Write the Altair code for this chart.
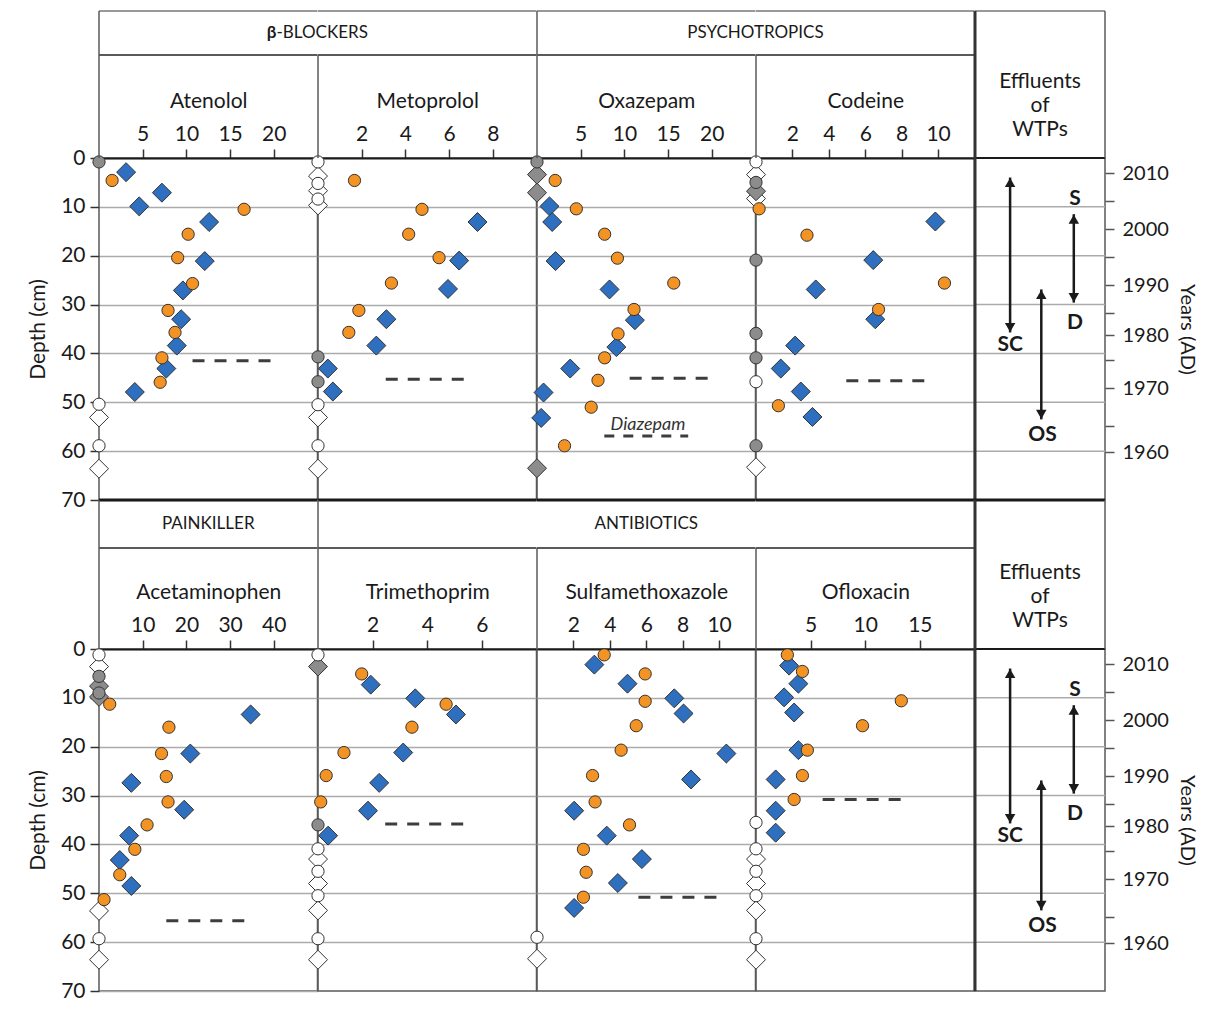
import json
import altair as alt
import pandas as pd

FONT = "Lato"
ORANGE = "#F39323"
BLUE = "#2E6FBF"
GREY = "#8C8C8C"
WHITE = "#FFFFFF"
EDGE = "#333333"
INK = "#1a1a1a"
FRAME = "#5a5a5a"
GRID = "#ababab"

PANEL_W = 218.5
EFF_W = 130
PLOT_H = 342

# ---------------- shared depth values ----------------
depth_grid = [10, 20, 30, 40, 50, 60]
depth_ticks = [0, 10, 20, 30, 40, 50, 60, 70]

# ---------------- Atenolol ----------------
aten_ticks = [5, 10, 15, 20]
aten_orange_x = [1.5, 16.6, 10.2, 9.0, 10.7, 7.9, 8.7, 7.2, 7.0]
aten_orange_depth = [4.6, 10.5, 15.6, 20.4, 25.7, 31.2, 35.7, 40.9, 45.9]
aten_blue_x = [3.1, 7.2, 4.6, 12.6, 12.1, 9.6, 9.4, 8.9, 7.7, 4.1]
aten_blue_depth = [2.9, 7.1, 9.9, 13.1, 21.1, 27.1, 33.0, 38.4, 43.1, 47.9]
aten_grey_circle = [0.8]
aten_grey_diamond = []
aten_white_circle = [50.4, 58.9]
aten_white_diamond = [53.1, 63.6]
aten_limit = [10.7, 20.3, 41.5]

# ---------------- Metoprolol ----------------
meto_ticks = [2, 4, 6, 8]
meto_orange_x = [1.67, 4.76, 4.15, 5.54, 3.36, 1.87, 1.41]
meto_orange_depth = [4.6, 10.5, 15.6, 20.4, 25.6, 31.2, 35.7]
meto_blue_x = [7.3, 6.46, 5.95, 3.13, 2.67, 0.45, 0.68]
meto_blue_depth = [13.1, 21.0, 26.8, 33.0, 38.4, 43.1, 47.8]
meto_grey_circle = [40.7, 45.8]
meto_grey_diamond = []
meto_white_circle = [0.8, 5.2, 8.4, 50.5, 58.9]
meto_white_diamond = [3.7, 6.7, 9.7, 53.1, 63.6]
meto_limit = [3.1, 7.0, 45.3]

# ---------------- Oxazepam (+ Diazepam limit) ----------------
oxa_ticks = [5, 10, 15, 20]
oxa_orange_x = [2.08, 4.5, 7.74, 9.2, 15.65, 11.1, 9.27, 7.74, 6.98, 6.2, 3.15]
oxa_orange_depth = [4.6, 10.4, 15.6, 20.5, 25.6, 31.0, 36.0, 40.9, 45.5, 51.0, 58.9]
oxa_blue_x = [1.43, 1.74, 2.12, 8.3, 11.2, 9.08, 3.8, 0.75, 0.48]
oxa_blue_depth = [9.9, 13.1, 21.1, 26.9, 33.2, 38.7, 43.1, 48.0, 53.2]
oxa_grey_circle = [0.8]
oxa_grey_diamond = [3.4, 7.1, 63.5]
oxa_white_circle = []
oxa_white_diamond = []
oxa_limit = [10.6, 20.4, 45.1]
diaz_limit = [7.7, 17.3, 56.9]
diaz_label = ["Diazepam"]
diaz_label_x = [12.7]
diaz_label_depth = [54.6]

# ---------------- Codeine ----------------
cod_ticks = [2, 4, 6, 8, 10]
cod_orange_x = [0.17, 2.8, 10.35, 6.73, 1.23]
cod_orange_depth = [10.4, 15.8, 25.6, 31.0, 50.7]
cod_blue_x = [9.85, 6.44, 3.28, 6.55, 2.15, 1.36, 2.46, 3.1]
cod_blue_depth = [13.0, 20.9, 26.9, 33.0, 38.4, 43.1, 47.8, 53.0]
cod_grey_circle = [5.0, 20.9, 35.9, 40.9, 58.9]
cod_grey_diamond = [6.8]
cod_white_circle = [0.8, 45.8]
cod_white_diamond = [3.4, 8.3, 63.3]
cod_limit = [4.96, 9.6, 45.6]

# ---------------- Acetaminophen ----------------
acet_ticks = [10, 20, 30, 40]
acet_orange_x = [2.45, 16.0, 14.3, 15.4, 15.8, 11.0, 8.2, 4.75, 1.15]
acet_orange_depth = [11.3, 16.0, 21.4, 26.1, 31.3, 36.0, 41.0, 46.2, 51.3]
acet_blue_x = [34.7, 20.9, 7.4, 19.5, 6.9, 4.75, 7.4]
acet_blue_depth = [13.4, 21.4, 27.4, 32.9, 38.2, 43.2, 48.5]
acet_grey_circle = [5.6, 9.0]
acet_grey_diamond = [7.6, 9.8]
acet_white_circle = [1.2, 59.3]
acet_white_diamond = [3.6, 53.6, 63.6]
acet_limit = [15.4, 34.6, 55.6]

# ---------------- Trimethoprim ----------------
tri_ticks = [2, 4, 6]
tri_orange_x = [1.6, 4.69, 3.44, 0.95, 0.3, 0.1]
tri_orange_depth = [5.1, 11.3, 16.0, 21.2, 25.9, 31.3]
tri_blue_x = [1.93, 3.56, 5.05, 3.12, 2.24, 1.83, 0.37]
tri_blue_depth = [7.3, 10.1, 13.4, 21.2, 27.4, 33.1, 38.2]
tri_grey_circle = [36.0]
tri_grey_diamond = [3.6]
tri_white_circle = [1.2, 40.9, 45.5, 50.5, 59.3]
tri_white_diamond = [43.0, 48.0, 53.5, 63.6]
tri_limit = [2.46, 5.6, 35.8]

# ---------------- Sulfamethoxazole ----------------
sulf_ticks = [2, 4, 6, 8, 10]
sulf_orange_x = [3.69, 5.94, 5.94, 5.45, 4.62, 3.05, 3.19, 5.08, 2.55, 2.7, 2.55]
sulf_orange_depth = [1.2, 5.1, 10.7, 15.7, 20.7, 25.9, 31.3, 36.0, 41.0, 45.7, 50.8]
sulf_blue_x = [3.15, 4.97, 7.54, 8.05, 10.4, 8.46, 2.04, 3.83, 5.76, 4.44, 2.04]
sulf_blue_depth = [3.2, 7.1, 10.1, 13.2, 21.4, 26.7, 33.1, 38.2, 43.0, 47.9, 53.0]
sulf_grey_circle = []
sulf_grey_diamond = []
sulf_white_circle = [59.0]
sulf_white_diamond = [63.4]
sulf_limit = [5.57, 10.25, 50.8]

# ---------------- Ofloxacin ----------------
oflo_ticks = [5, 10, 15]
oflo_orange_x = [2.87, 4.25, 13.3, 9.75, 4.7, 4.25, 3.49]
oflo_orange_depth = [1.2, 4.6, 10.6, 15.7, 20.7, 25.9, 30.8]
oflo_blue_x = [3.03, 3.88, 2.57, 3.49, 3.88, 1.8, 1.8, 1.8]
oflo_blue_depth = [3.4, 7.1, 9.9, 13.0, 20.7, 26.7, 33.1, 37.6]
oflo_grey_circle = []
oflo_grey_diamond = []
oflo_white_circle = [35.5, 40.9, 45.5, 50.5, 59.3]
oflo_white_diamond = [43.0, 48.0, 53.5, 63.6]
oflo_limit = [6.1, 13.7, 30.8]

# ---------------- Effluents of WTPs ----------------
arrow_name = ["SC", "S-D", "OS"]
arrow_col = [0.27, 0.76, 0.51]
arrow_top = [4.0, 11.5, 26.9]
arrow_bottom = [35.7, 29.6, 53.5]
label_text = ["SC", "S", "D", "OS"]
label_col = [0.27, 0.77, 0.77, 0.52]
label_depth = [38.2, 8.3, 33.8, 56.6]
year_label = ["2010", "", "2000", "", "1990", "", "1980", "", "1970", "", "1960"]
year_depth = [3.1, 8.8, 14.6, 20.3, 26.0, 31.8, 36.3, 41.4, 47.1, 54.8, 60.2]

KINDS = ["white_circle", "white_diamond", "grey_circle", "grey_diamond", "blue", "orange"]
K_FILL = [WHITE, WHITE, GREY, GREY, BLUE, ORANGE]

ONE = pd.DataFrame({"k": [0]})


def yscale():
    return alt.Scale(domain=[0, 70], reverse=True, nice=False, zero=False)


def hrule(y, x1, x2, color=FRAME, width=1.5):
    return alt.Chart(ONE).mark_rule(color=color, strokeWidth=width).encode(
        x=alt.value(x1), x2=alt.value(x2), y=alt.value(y))


def vrule(x, y1, y2, color=FRAME, width=1.5):
    return alt.Chart(ONE).mark_rule(color=color, strokeWidth=width).encode(
        x=alt.value(x), y=alt.value(y1), y2=alt.value(y2))


def htext(txt, x, y, size=17, weight="normal", align="center"):
    return alt.Chart(ONE).mark_text(font=FONT, fontSize=size, fontWeight=weight,
                                    color=INK, align=align, baseline="middle").encode(
        x=alt.value(x), y=alt.value(y), text=alt.value(txt))


def panel(name, xmax, ticks, ox, od, bx, bd, gc, gd, wc, wd, lim,
          first=False, top=-147, group=-103, full_left=False, thick_top=False,
          group_text=None, group_x=None, extra=None):
    xs = alt.Scale(domain=[0, xmax], nice=False, zero=False)
    ys = yscale()
    xaxis = alt.Axis(orient="top", values=ticks, title=name, grid=False,
                     tickSize=9, tickWidth=1.5, tickColor="#333",
                     domain=True, domainColor=INK, domainWidth=2,
                     labelFontSize=21, labelColor=INK, labelPadding=5, labelFlush=False,
                     titleFontSize=21, titleFontWeight="normal", titleColor=INK,
                     titlePadding=12)
    if first:
        yaxis = alt.Axis(values=depth_ticks, title="Depth (cm)", grid=True,
                         gridColor=GRID, gridWidth=1.5, tickSize=9, tickColor="#333",
                         tickWidth=1.5, domain=False, labelFontSize=21, labelColor=INK,
                         labelPadding=5, titleFontSize=21, titleFontWeight="normal",
                         titleColor=INK, titlePadding=12)
    else:
        yaxis = alt.Axis(values=depth_grid, labels=False, ticks=False, domain=False,
                         title=None, grid=True, gridColor=GRID, gridWidth=1.5)

    dia_rows = ([(0, d, "white_diamond") for d in wd] + [(0, d, "grey_diamond") for d in gd]
                + [(x, d, "blue") for x, d in zip(bx, bd)])
    cir_rows = ([(0, d, "white_circle") for d in wc] + [(0, d, "grey_circle") for d in gc]
                + [(x, d, "orange") for x, d in zip(ox, od)])
    dfd = pd.DataFrame(dia_rows, columns=["conc", "depth", "kind"])
    dfc = pd.DataFrame(cir_rows, columns=["conc", "depth", "kind"])
    fill = alt.Fill("kind:N", scale=alt.Scale(domain=KINDS, range=K_FILL), legend=None)

    dia = alt.Chart(dfd).mark_point(shape="diamond", filled=True, size=360, stroke=EDGE,
                                    strokeWidth=1, opacity=1).encode(
        x=alt.X("conc:Q", scale=xs, axis=xaxis),
        y=alt.Y("depth:Q", scale=ys, axis=yaxis), fill=fill)
    cir = alt.Chart(dfc).mark_point(shape="circle", filled=True, size=150, stroke=EDGE,
                                    strokeWidth=1, opacity=1).encode(
        x=alt.X("conc:Q", scale=xs, axis=xaxis),
        y=alt.Y("depth:Q", scale=ys, axis=yaxis), fill=fill)
    dash = alt.Chart(pd.DataFrame({"conc": [lim[0]], "conc2": [lim[1]], "depth": [lim[2]]})).mark_rule(
        strokeDash=[12, 10], strokeWidth=3, color="#3d3d3d").encode(
        x=alt.X("conc:Q", scale=xs, axis=xaxis), x2="conc2:Q",
        y=alt.Y("depth:Q", scale=ys, axis=yaxis))

    layers = [dia, cir, dash]
    if extra is not None:
        layers += extra(xs, ys, xaxis, yaxis)

    # header frame
    top_w = 3 if thick_top else 1.5
    top_c = INK if thick_top else "#777"
    layers.append(hrule(top, 0, PANEL_W, top_c, top_w))
    layers.append(hrule(group, 0, PANEL_W, FRAME, 2))
    layers.append(vrule(0, top if full_left else group, 0, FRAME, 1.5))
    if group_text is not None:
        if group_text.startswith("β"):
            layers.append(htext("β", group_x - 41, (top + group) / 2, weight="bold", align="right"))
            layers.append(htext(group_text[1:], group_x - 41, (top + group) / 2, align="left"))
        else:
            layers.append(htext(group_text, group_x, (top + group) / 2))
    return alt.layer(*layers).properties(width=PANEL_W, height=PLOT_H)


def diazepam(xs, ys, xaxis, yaxis):
    d = alt.Chart(pd.DataFrame({"conc": [diaz_limit[0]], "conc2": [diaz_limit[1]],
                                "depth": [diaz_limit[2]]})).mark_rule(
        strokeDash=[10, 9], strokeWidth=3, color="#3d3d3d").encode(
        x=alt.X("conc:Q", scale=xs, axis=xaxis), x2="conc2:Q",
        y=alt.Y("depth:Q", scale=ys, axis=yaxis))
    t = alt.Chart(pd.DataFrame({"conc": diaz_label_x, "depth": diaz_label_depth,
                                "lab": diaz_label})).mark_text(
        font=FONT, fontSize=18, fontStyle="italic", color="#333", baseline="middle").encode(
        x=alt.X("conc:Q", scale=xs, axis=xaxis),
        y=alt.Y("depth:Q", scale=ys, axis=yaxis), text="lab:N")
    return [d, t]


def effluents(top, thick_top=False):
    ys = yscale()
    xe = alt.Scale(domain=[0, 1], nice=False, zero=False)
    expr = "%s[indexof(%s, datum.value)]" % (json.dumps(year_label), json.dumps(year_depth))
    yax = alt.Axis(orient="right", values=year_depth, labelExpr=expr, title="Years (AD)",
                   grid=False, domain=False, tickSize=9, tickColor="#555", tickWidth=1.5,
                   labelFontSize=20, labelColor=INK, labelPadding=8,
                   titleFontSize=20, titleFontWeight="normal", titleColor=INK,
                   titlePadding=8)
    grid = alt.Chart(pd.DataFrame({"depth": depth_grid})).mark_rule(
        color=GRID, strokeWidth=1.5).encode(y=alt.Y("depth:Q", scale=ys, axis=yax))
    adf = pd.DataFrame({"col": arrow_col, "depth": arrow_top, "depth2": arrow_bottom,
                        "name": arrow_name})
    shafts = alt.Chart(adf).mark_rule(color=INK, strokeWidth=2.5).encode(
        x=alt.X("col:Q", scale=xe, axis=None),
        y=alt.Y("depth:Q", scale=ys, axis=yax), y2="depth2:Q")
    up = alt.Chart(adf).mark_point(shape="triangle-up", filled=True, color=INK, size=110,
                                   opacity=1, yOffset=5).encode(
        x=alt.X("col:Q", scale=xe, axis=None), y=alt.Y("depth:Q", scale=ys, axis=yax))
    down = alt.Chart(adf).mark_point(shape="triangle-down", filled=True, color=INK, size=110,
                                     opacity=1, yOffset=-5).encode(
        x=alt.X("col:Q", scale=xe, axis=None), y=alt.Y("depth2:Q", scale=ys, axis=yax))
    labs = alt.Chart(pd.DataFrame({"col": label_col, "depth": label_depth, "t": label_text})).mark_text(
        font=FONT, fontSize=21, fontWeight="bold", color=INK, baseline="middle").encode(
        x=alt.X("col:Q", scale=xe, axis=None), y=alt.Y("depth:Q", scale=ys, axis=yax), text="t:N")
    head = alt.Chart(ONE).mark_text(font=FONT, fontSize=21, color=INK, align="center",
                                    baseline="middle", lineBreak="\n", lineHeight=24).encode(
        x=alt.value(EFF_W / 2), y=alt.value(-76), text=alt.value("Effluents\nof\nWTPs"))
    top_w = 3 if thick_top else 1.5
    top_c = INK if thick_top else "#777"
    layers = [grid, shafts, up, down, labs, head,
              hrule(top, 0, EFF_W, top_c, top_w),
              hrule(0, 0, EFF_W, INK, 2),
              vrule(0, top, PLOT_H, "#333", 3),
              vrule(EFF_W, top, 0, FRAME, 1.5)]
    return alt.layer(*layers).properties(width=EFF_W, height=PLOT_H)


row1 = [
    panel("Atenolol", 25, aten_ticks, aten_orange_x, aten_orange_depth, aten_blue_x, aten_blue_depth,
          aten_grey_circle, aten_grey_diamond, aten_white_circle, aten_white_diamond, aten_limit,
          first=True, full_left=True, group_text="β-BLOCKERS", group_x=PANEL_W),
    panel("Metoprolol", 10, meto_ticks, meto_orange_x, meto_orange_depth, meto_blue_x, meto_blue_depth,
          meto_grey_circle, meto_grey_diamond, meto_white_circle, meto_white_diamond, meto_limit),
    panel("Oxazepam", 25, oxa_ticks, oxa_orange_x, oxa_orange_depth, oxa_blue_x, oxa_blue_depth,
          oxa_grey_circle, oxa_grey_diamond, oxa_white_circle, oxa_white_diamond, oxa_limit,
          full_left=True, group_text="PSYCHOTROPICS", group_x=PANEL_W, extra=diazepam),
    panel("Codeine", 12, cod_ticks, cod_orange_x, cod_orange_depth, cod_blue_x, cod_blue_depth,
          cod_grey_circle, cod_grey_diamond, cod_white_circle, cod_white_diamond, cod_limit),
    effluents(-147),
]
row2 = [
    panel("Acetaminophen", 50, acet_ticks, acet_orange_x, acet_orange_depth, acet_blue_x, acet_blue_depth,
          acet_grey_circle, acet_grey_diamond, acet_white_circle, acet_white_diamond, acet_limit,
          first=True, full_left=True, top=-149, group=-101, thick_top=True,
          group_text="PAINKILLER", group_x=PANEL_W / 2),
    panel("Trimethoprim", 8, tri_ticks, tri_orange_x, tri_orange_depth, tri_blue_x, tri_blue_depth,
          tri_grey_circle, tri_grey_diamond, tri_white_circle, tri_white_diamond, tri_limit,
          full_left=True, top=-149, group=-101, thick_top=True),
    panel("Sulfamethoxazole", 12, sulf_ticks, sulf_orange_x, sulf_orange_depth, sulf_blue_x, sulf_blue_depth,
          sulf_grey_circle, sulf_grey_diamond, sulf_white_circle, sulf_white_diamond, sulf_limit,
          top=-149, group=-101, thick_top=True, group_text="ANTIBIOTICS", group_x=PANEL_W / 2),
    panel("Ofloxacin", 20, oflo_ticks, oflo_orange_x, oflo_orange_depth, oflo_blue_x, oflo_blue_depth,
          oflo_grey_circle, oflo_grey_diamond, oflo_white_circle, oflo_white_diamond, oflo_limit,
          top=-149, group=-101, thick_top=True),
    effluents(-149, thick_top=True),
]

chart = alt.concat(*row1, *row2, columns=5, spacing={"row": 149, "column": 0},
                   bounds="flush").properties(
    padding={"left": 18, "top": 0, "right": 6, "bottom": 0}
).configure_view(stroke=FRAME, strokeWidth=1.5).configure_axis(labelFont=FONT, titleFont=FONT)

chart.save("out.html", embed_options={"renderer": "svg", "actions": False})
